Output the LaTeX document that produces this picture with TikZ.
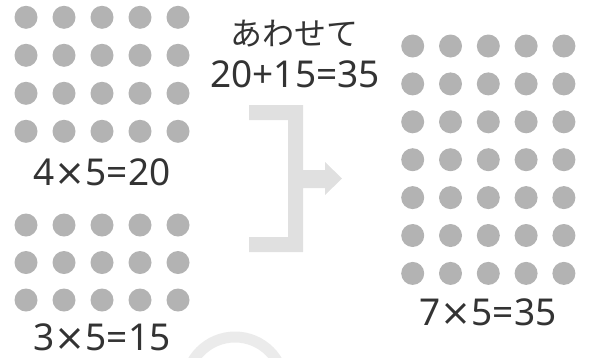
\documentclass[tikz,border=0pt]{standalone}
\usepackage{fontspec}
\setmainfont{Noto Sans CJK JP}
\newfontfamily\eqfont{Noto Sans}
\newfontfamily\symfont{DejaVu Sans}
\newcommand{\tms}{{\symfont ×}}
\definecolor{dotgray}{HTML}{B3B3B3}
\definecolor{txtgray}{HTML}{333333}
\definecolor{bargray}{HTML}{E0E0E0}
\definecolor{arcgray}{HTML}{EBEBEB}
\tikzset{
  dotc/.style={circle,fill=dotgray,inner sep=0pt,minimum size=23pt},
  eqtext/.style={text=txtgray,font=\eqfont\fontsize{37}{40}\selectfont,inner sep=0pt,anchor=base},
  kanatext/.style={text=txtgray,font=\fontsize{32}{34}\selectfont,inner sep=0pt},
}
\begin{document}
\begin{tikzpicture}[x=1pt,y=-1pt]
\useasboundingbox (0,0) rectangle (591,357);
% top-left grid 4x5
\foreach \r in {0,...,3}{\foreach \c in {0,...,4}{
  \node[dotc] (a\r\c) at (26+38*\c,17.3+38*\r) {};}}
% bottom-left grid 3x5
\foreach \r in {0,...,2}{\foreach \c in {0,...,4}{
  \node[dotc] (b\r\c) at (26+38*\c,225+37.5*\r) {};}}
% right grid 7x5
\foreach \r in {0,...,6}{\foreach \c in {0,...,4}{
  \node[dotc] (c\r\c) at (412.7+37.8*\c,46+37.9*\r) {};}}
% labels
\node[eqtext] (la) at (102,185) {4\tms5=20};
\node[eqtext] (lb) at (102,350) {3\tms5=15};
\node[eqtext] (lc) at (488,325) {7\tms5=35};
\node[kanatext] (lk) at (294,34) {あわせて};
\node[eqtext] (ls) at (295,87) {20+15=35};
% bracket arrow
\fill[bargray] (249,105) -- (303,105) -- (303,170) -- (325,170) -- (325,162)
  -- (342,178.5) -- (325,195) -- (325,188) -- (303,188) -- (303,252)
  -- (249,252) -- (249,237) -- (288,237) -- (288,120) -- (249,120) -- cycle;
% partial arc at bottom
\begin{scope}
\clip (0,0) rectangle (591,357);
\draw[arcgray,line width=11pt] (235,386) circle[radius=49];
\end{scope}
\end{tikzpicture}
\end{document}
